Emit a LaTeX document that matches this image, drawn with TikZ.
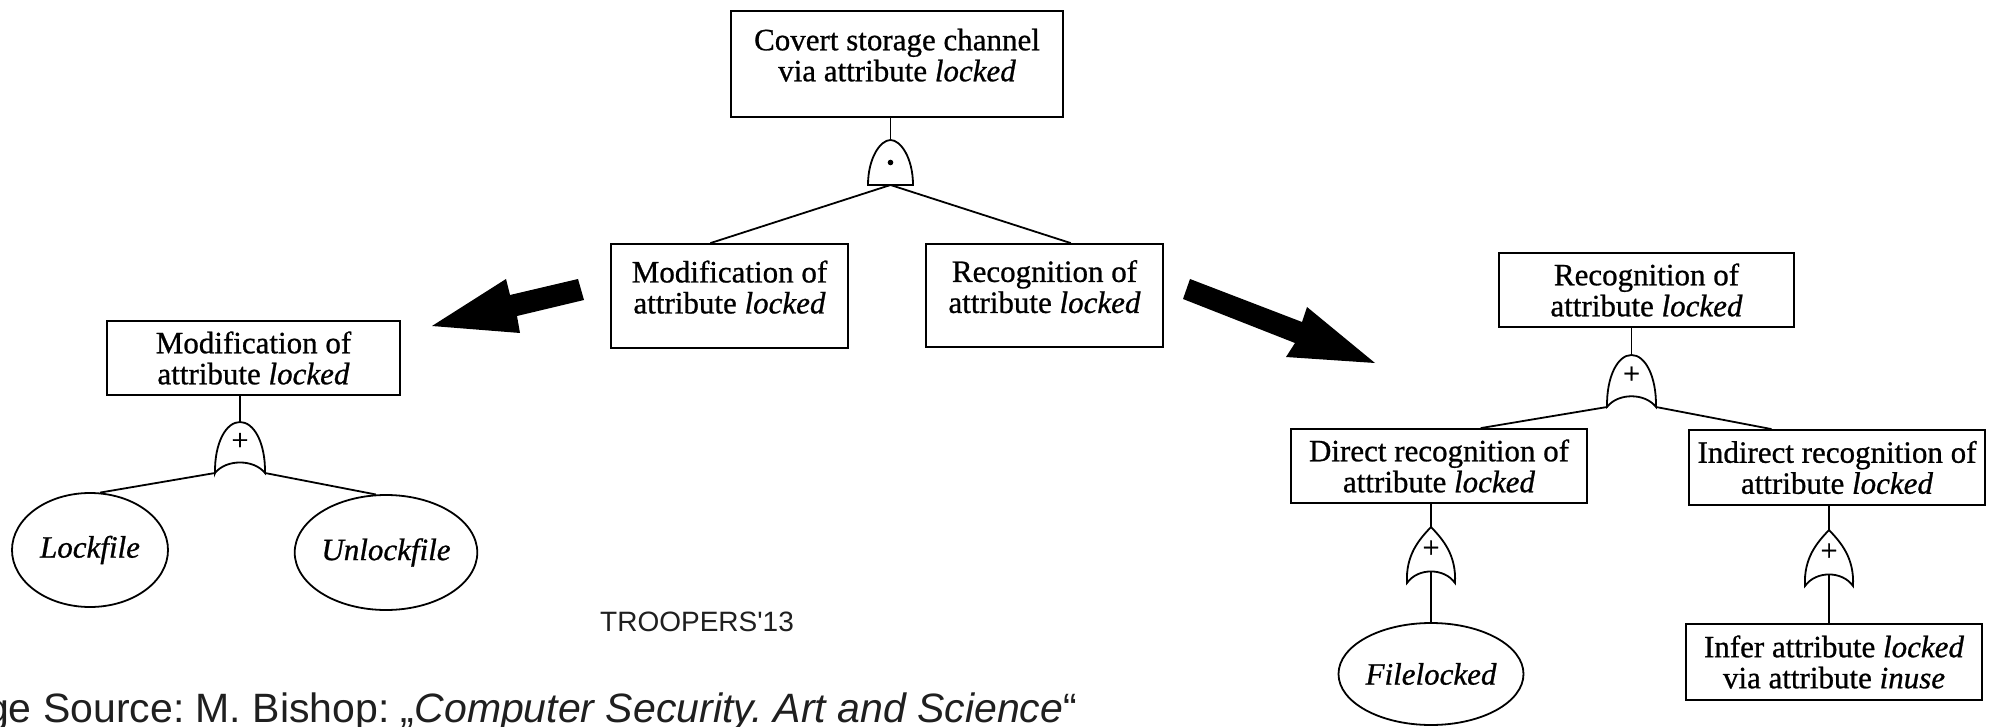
\documentclass[tikz,border=0pt]{standalone}
\usepackage{fontspec}
\usetikzlibrary{shapes.geometric,calc}
\newfontfamily\serifface{Liberation Serif}[FakeBold=0.8]
\newfontfamily\sansface{Liberation Sans}
\newcommand\treefont{\serifface\fontsize{31}{31}\selectfont}
\newcommand\lowstrut[1]{\rule[-#1]{0pt}{#1}}
\frenchspacing

% gates drawn in local coordinates: x in [-1,1], y = -1 top, y = 1 bottom
\newcommand\andgate[3]{%
  \draw[gateline, shift={(#1.center)}, xscale=#2, yscale=#3]
    (-1,1) .. controls (-1,-0.2) and (-0.45,-1) .. (0,-1)
           .. controls (0.45,-1) and (1,-0.2) .. (1,1) -- cycle;}
\newcommand\orgateround[3]{%
  \draw[gateline, shift={(#1.center)}, xscale=#2, yscale=#3]
    (-1,1) .. controls (-1.02,-0.2) and (-0.55,-1) .. (0,-1)
           .. controls (0.55,-1) and (1.02,-0.2) .. (1,1)
           .. controls (0.55,0.45) and (-0.55,0.45) .. cycle;}
\newcommand\orgatepoint[3]{%
  \draw[gateline, shift={(#1.center)}, xscale=#2, yscale=#3]
    (-1,1) .. controls (-1.06,0) and (-0.5,-0.55) .. (0,-1)
           .. controls (0.5,-0.55) and (1.06,0) .. (1,1)
           .. controls (0.55,0.45) and (-0.55,0.45) .. cycle;}

\tikzset{
  box/.style={draw, line width=1.8pt, inner sep=0pt, align=center, font=\treefont},
  leaf/.style={draw, ellipse, line width=1.8pt, inner sep=0pt, font=\treefont\itshape},
  gatebox/.style={inner sep=0pt, outer sep=0pt},
  wire/.style={line width=1.8pt},
  gateline/.style={line width=1.8pt, fill=white},
  blockarrow/.style={fill=black},
  plus/.style={inner sep=0pt, font=\serifface\fontsize{30}{30}\selectfont},
  caption/.style={anchor=base west, inner sep=0pt, text=black!88},
}

\begin{document}
\begin{tikzpicture}[x=1pt, y=-1pt]
\useasboundingbox (0,0) rectangle (1992,727);
\fill[white] (0,0) rectangle (1992,727);
\clip (0,0) rectangle (1992,727);

% ---------- central tree ----------
\node[box, minimum width=332pt, minimum height=106pt] (top) at (897,64)
  {Covert storage channel\\via attribute \textit{locked}\lowstrut{18pt}};
\node[gatebox, minimum width=45pt, minimum height=45pt] (g0) at (890.5,162.5) {};
\node[box, minimum width=237pt, minimum height=104pt] (mod) at (729.5,296)
  {Modification of\\attribute \textit{locked}\lowstrut{18pt}};
\node[box, minimum width=237pt, minimum height=103pt] (rec) at (1044.5,295.5)
  {Recognition of\\attribute \textit{locked}\lowstrut{18pt}};

\draw[wire] (g0.north |- top.south) -- (g0.north);
\draw[wire] (g0.south) -- ($(mod.north west)!0.42!(mod.north east)$);
\draw[wire] (g0.south) -- ($(rec.north west)!0.61!(rec.north east)$);
\andgate{g0}{22.5}{22.5}
\fill (g0.center) circle (2.8pt);

% ---------- block arrows ----------
\fill[blockarrow] (432,326) -- (506,279) -- (510,295) -- (578,279) -- (584,300)
  -- (517,316) -- (520,333) -- cycle;
\fill[blockarrow] (1375,363) -- (1286,357) -- (1295,343) -- (1183,299) -- (1190,279)
  -- (1302,322) -- (1307,307) -- cycle;

% ---------- left tree ----------
\node[box, minimum width=293pt, minimum height=74pt] (lmod) at (253.5,358)
  {Modification of\\attribute \textit{locked}};
\node[gatebox, minimum width=50pt, minimum height=51pt] (lg) at (240,447.5) {};
\node[leaf, minimum width=156pt, minimum height=114pt] (lock) at (90,550) {Lockfile};
\node[leaf, minimum width=156pt, minimum height=115pt] (unlock) at (386,552.5) {Unlockfile};

\draw[wire] (lg.north |- lmod.south) -- (lg.north);
\draw[wire] (lg.south west) -- (lock.80);
\draw[wire] (lg.south east) -- (unlock.100);
\orgateround{lg}{25}{25.5}
\node[plus] (lgp) at ($(lg.center)+(0,-6)$) {+};

% ---------- right tree ----------
\node[box, minimum width=295pt, minimum height=74pt] (rrec) at (1646.5,290)
  {Recognition of\\attribute \textit{locked}};
\node[gatebox, minimum width=49pt, minimum height=52pt] (rg) at (1631.5,381) {};
\node[box, minimum width=296pt, minimum height=74pt] (dir) at (1439,466)
  {Direct recognition of\\attribute \textit{locked}};
\node[box, minimum width=296pt, minimum height=75pt] (ind) at (1837,467.5)
  {Indirect recognition of\\attribute \textit{locked}};
\node[gatebox, minimum width=48pt, minimum height=56pt] (dg) at (1431,555) {};
\node[gatebox, minimum width=48pt, minimum height=56pt] (ig) at (1829,558) {};
\node[leaf, minimum width=174pt, minimum height=102pt] (fl) at (1431,674) {Filelocked};
\node[box, minimum width=296pt, minimum height=76pt] (inf) at (1834,662)
  {Infer attribute \textit{locked}\\via attribute \textit{inuse}};

\draw[wire] (rg.north |- rrec.south) -- (rg.north);
\draw[wire] (rg.south west) -- ($(dir.north west)!0.64!(dir.north east)$);
\draw[wire] (rg.south east) -- ($(ind.north west)!0.28!(ind.north east)$);
\orgateround{rg}{24.5}{26}
\node[plus] (rgp) at ($(rg.center)+(0,-6)$) {+};

\draw[wire] (dg.north |- dir.south) -- (dg.north);
\draw[wire] ($(dg.south)!0.2!(dg.north)$) -- (fl.north);
\orgatepoint{dg}{24}{28}
\node[plus] (dgp) at ($(dg.center)+(0,-6)$) {+};

\draw[wire] (ig.north |- ind.south) -- (ig.north);
\draw[wire] ($(ig.south)!0.2!(ig.north)$) -- (ig.south |- inf.north);
\orgatepoint{ig}{24}{28}
\node[plus] (igp) at ($(ig.center)+(0,-6)$) {+};

% ---------- captions ----------
\node[caption, font=\sansface\fontsize{28}{28}\selectfont] (tag) at (600,631) {TROOPERS'13};
\node[caption, font=\sansface\fontsize{41}{41}\selectfont] (src) at (-14,722)
  {ge Source: M. Bishop: „\textit{Computer Security. Art and Science}“};
\end{tikzpicture}
\end{document}
